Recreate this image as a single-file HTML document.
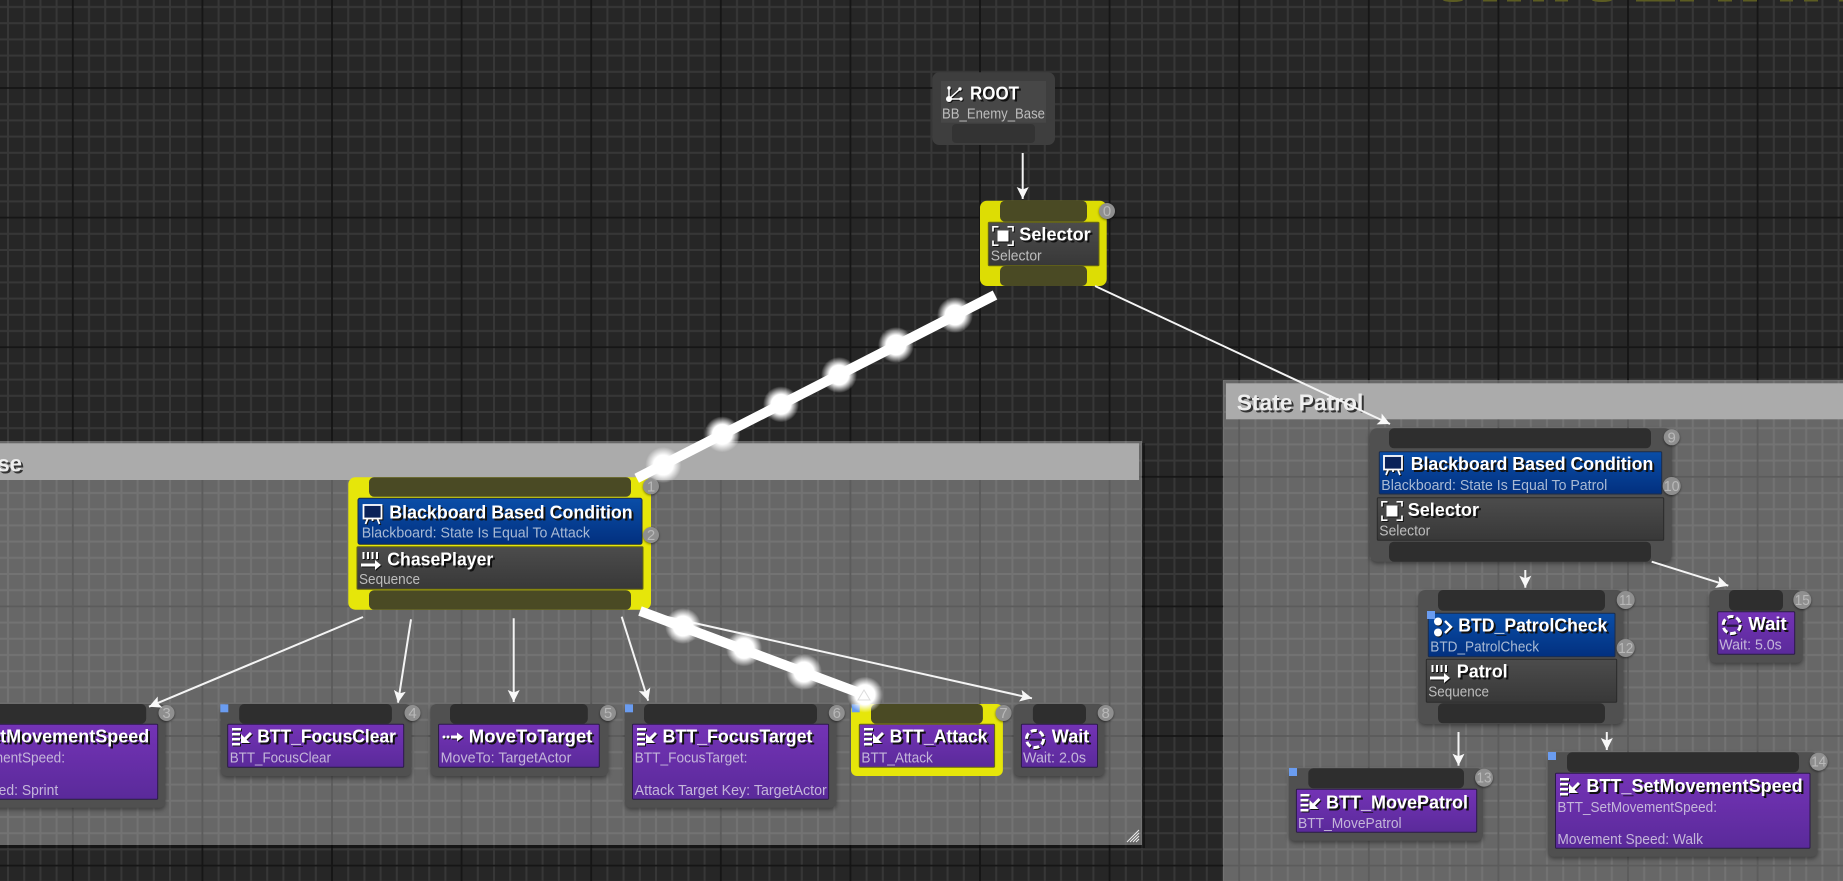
<!DOCTYPE html>
<html><head><meta charset="utf-8"><style>
html,body{margin:0;padding:0;background:#262626;overflow:hidden}
svg{display:block;font-family:"Liberation Sans",sans-serif}
.t{font-weight:700;font-size:18.500px;fill:#fff;filter:drop-shadow(2px 2px 0 #111)}
.h{font-weight:700;font-size:23px;fill:#eee;filter:drop-shadow(2px 2px 0 #333)}
.s{font-size:15px;fill:#bdbdbd}.sb{font-size:15px;fill:#a9bad4}.sp{font-size:15px;fill:#c4b6da}
.b{font-size:15px;fill:#b8b8b8;text-anchor:middle}
.o{fill:#505050;filter:drop-shadow(0 2px 2px rgba(0,0,0,.4))}
.y{fill:#e6e60a}.pin{fill:#2e2e2e}.pinY{fill:#4a4a24}
.pu{fill:url(#gp);stroke:#2b1a48;stroke-width:1}.bl{fill:url(#gb);stroke:#1d2c48;stroke-width:1}.gr{fill:url(#gg);stroke:#2a2a2a;stroke-width:1}
.bd{fill:#8f8f8f;filter:drop-shadow(0 1px 1px rgba(0,0,0,.5))}
.w{stroke:#f4f4f4;stroke-width:2;marker-end:url(#a)}
.ic{filter:drop-shadow(1.500px 1.500px 0 #111)}
</style></head><body>
<svg xmlns="http://www.w3.org/2000/svg" width="1843" height="881" viewBox="0 0 1843 881">
<defs>
<pattern id="grid" patternUnits="userSpaceOnUse" x="72.800" y="88" width="129.600" height="129.600">
<path d="M16.200 0V129.600M32.400 0V129.600M48.600 0V129.600M64.800 0V129.600M81 0V129.600M97.200 0V129.600M113.400 0V129.600M0 16.200H129.600M0 32.400H129.600M0 48.600H129.600M0 64.800H129.600M0 81H129.600M0 97.200H129.600M0 113.400H129.600" stroke="#373737" stroke-width="2" fill="none"/>
<path d="M0 0V129.600M129.600 0V129.600M0 0H129.600M0 129.600H129.600" stroke="#151515" stroke-width="1.800" fill="none"/>
</pattern>
<linearGradient id="gp" x1="0" y1="0" x2="0" y2="1"><stop offset="0" stop-color="#7433b6"/><stop offset="1" stop-color="#5a2a9a"/></linearGradient>
<linearGradient id="gb" x1="0" y1="0" x2="0" y2="1"><stop offset="0" stop-color="#0a4ea8"/><stop offset="1" stop-color="#02307f"/></linearGradient>
<linearGradient id="gg" x1="0" y1="0" x2="0" y2="1"><stop offset="0" stop-color="#4c4c4c"/><stop offset="1" stop-color="#383838"/></linearGradient>
<radialGradient id="glow"><stop offset="0" stop-color="#fff"/><stop offset=".55" stop-color="#fff"/><stop offset="1" stop-color="#fff" stop-opacity="0"/></radialGradient>
<marker id="a" markerUnits="userSpaceOnUse" markerWidth="13" markerHeight="13" refX="12" refY="6.500" orient="auto"><path d="M0 .5L12 6.500L0 12.500L2.500 6.500z" fill="#f8f8f8"/></marker>
<g id="sel"><path d="M0 5.500V.8H5.500M14.500 .8H20V5.500M20 14.500V19.200H14.500M5.500 19.200H0V14.500" fill="none" stroke="#fff" stroke-width="1.700"/><rect x="4.500" y="4.500" width="11" height="11" fill="#fff"/></g>
<g id="bb"><rect x="1" y="1" width="18" height="13.500" fill="#0a2258" stroke="#fff" stroke-width="1.800"/><path d="M5 15L3 20M15 15L17 20M10 15V17" stroke="#fff" stroke-width="1.800" fill="none"/></g>
<g id="seq"><path d="M2.500 0V7M7 0V7M11.500 0V7M16 0V7" stroke="#fff" stroke-width="2"/><path d="M0 13H15" stroke="#fff" stroke-width="3"/><path d="M14 8L20 13L14 18z" fill="#fff"/></g>
<g id="task"><path d="M0 0H9V2.500H0zM0 5H8V7.500H0zM0 10H8V12.500H0zM0 15H8V17.500H0z" fill="#fff"/><path d="M19 5L12 12" stroke="#fff" stroke-width="3"/><path d="M9 6V15H18z" fill="#fff"/></g>
<g id="move"><circle cx="2" cy="7" r="1.500" fill="#fff"/><circle cx="6" cy="7" r="1.500" fill="#fff"/><path d="M9 7H16" stroke="#fff" stroke-width="3"/><path d="M15 2.500L21 7L15 11.500z" fill="#fff"/></g>
<g id="wait"><circle cx="10" cy="10" r="8.500" fill="none" stroke="#fff" stroke-width="3" stroke-dasharray="6 2.900"/><path d="M4 10H16" stroke="#3a1d66" stroke-width="1.200"/></g>
<g id="dec"><circle cx="5" cy="4.500" r="4" fill="#fff"/><circle cx="5" cy="15.500" r="4" fill="#fff"/><path d="M12 4L18 10L12 16" stroke="#fff" stroke-width="2.500" fill="none"/></g>
<g id="root"><path d="M3 14L3 3M3 14L14 4M3 14H15" stroke="#fff" stroke-width="1.500"/><circle cx="3" cy="14" r="3" fill="#fff"/><circle cx="3" cy="3" r="1.700" fill="#fff"/><circle cx="14" cy="4" r="1.700" fill="#fff"/><circle cx="15" cy="14" r="1.700" fill="#fff"/></g>
</defs>
<rect width="1843" height="881" fill="#262626"/>
<rect width="1843" height="881" fill="url(#grid)"/>
<!-- huge yellow title remnants -->
<g fill="#5c5c22"><ellipse cx="1453" cy="0" rx="10" ry="2"/><rect x="1483" y="0" width="14" height="1.500"/><rect x="1507" y="0" width="14" height="1.500"/><rect x="1533" y="0" width="11" height="1.500"/><rect x="1555" y="0" width="13" height="1.500"/><ellipse cx="1602" cy="0" rx="10" ry="2"/><rect x="1636" y="0" width="39" height="1.500"/><rect x="1680" y="0" width="14" height="1.500"/><rect x="1718" y="0" width="14" height="1.500"/><rect x="1743" y="0" width="14" height="1.500"/><rect x="1780" y="0" width="13" height="1.500"/><rect x="1804" y="0" width="14" height="1.500"/><rect x="1839" y="0" width="4" height="1.500"/></g>

<!-- comment: State Chase -->
<rect x="-10" y="441" width="1152" height="404" fill="rgba(255,255,255,.3)"/>
<path d="M1143.500 443V846.500H-10" fill="none" stroke="rgba(0,0,0,.4)" stroke-width="3"/>
<rect x="-10" y="443.300" width="1149" height="36.700" fill="#ababab"/>
<text class="h" x="-105" y="471.700" textLength="127" lengthAdjust="spacingAndGlyphs">State Chase</text>
<path d="M1130 842L1139 833M1133 842L1139 836M1136 842L1139 839M1127 842L1139 830" stroke="#eee" stroke-width="1" fill="none"/>
<!-- comment: State Patrol -->
<rect x="1223" y="380" width="630" height="510" fill="rgba(255,255,255,.3)"/>
<rect x="1226" y="383.300" width="627" height="36" fill="#ababab"/>
<text class="h" x="1236.700" y="410.700" textLength="126.600" lengthAdjust="spacingAndGlyphs">State Patrol</text>

<!-- ROOT -->
<rect x="932.300" y="72.300" width="122.700" height="72.700" rx="7" fill="#3e3e3e"/>
<rect x="941" y="81" width="105" height="41.700" fill="#474747"/>
<rect x="952" y="124" width="83" height="19" rx="4" fill="#333"/>
<use href="#root" class="ic" transform="translate(946,85)"/>
<text class="t" x="970" y="99.500" textLength="49" lengthAdjust="spacingAndGlyphs">ROOT</text>
<text class="s" x="942" y="118.700" textLength="103" lengthAdjust="spacingAndGlyphs">BB_Enemy_Base</text>

<!-- Selector 0 -->
<rect x="980" y="200.700" width="126.700" height="85.300" rx="7" fill="#dddd04"/>
<rect class="pinY" x="1000" y="200.700" width="87" height="21" rx="5"/>
<rect x="988.300" y="222.300" width="110.700" height="43.400" rx="1" fill="url(#gg)" stroke="#6a6a10"/>
<rect class="pinY" x="1000" y="266" width="87" height="20" rx="5"/>
<use href="#sel" class="ic" transform="translate(993,226)"/>
<text class="t" x="1019.300" y="240.700" textLength="71.400" lengthAdjust="spacingAndGlyphs">Selector</text>
<text class="s" x="990.700" y="260.700" textLength="51" lengthAdjust="spacingAndGlyphs">Selector</text>
<circle class="bd" cx="1107" cy="211" r="8"/><text class="b" x="1107" y="216">0</text>

<!-- Chase node -->
<rect x="348.300" y="477.300" width="302.700" height="132.400" rx="7" class="y"/>
<rect class="pinY" x="369" y="477.300" width="262" height="19.400" rx="5"/>
<rect class="bl" x="358" y="498.300" width="284" height="46" rx="2"/>
<rect class="gr" x="357" y="546.700" width="286" height="42.600" rx="1" style="stroke:#66660f"/>
<rect class="pinY" x="369" y="590.300" width="262" height="19.400" rx="5"/>
<use href="#bb" class="ic" transform="translate(362.500,504)"/>
<text class="t" x="389.300" y="518.700" textLength="243.400" lengthAdjust="spacingAndGlyphs">Blackboard Based Condition</text>
<text class="sb" x="361.700" y="537.700" textLength="228.300" lengthAdjust="spacingAndGlyphs">Blackboard: State Is Equal To Attack</text>
<use href="#seq" class="ic" transform="translate(361,552)"/>
<text class="t" x="387.300" y="565.700" textLength="106" lengthAdjust="spacingAndGlyphs">ChasePlayer</text>
<text class="s" x="359" y="584" textLength="61" lengthAdjust="spacingAndGlyphs">Sequence</text>
<circle class="bd" cx="651" cy="486.300" r="8"/><text class="b" x="651" y="491.300">1</text>
<circle class="bd" cx="651" cy="535" r="8"/><text class="b" x="651" y="540">2</text>

<!-- Node 3 -->
<rect class="o" x="-104.300" y="704" width="269.600" height="103.700" rx="6"/>
<rect class="pin" x="-85.800" y="704" width="232" height="19.700" rx="5"/>
<rect class="pu" x="-96.800" y="724.300" width="254.500" height="75" rx="1"/>
<text class="t" x="-67" y="742.700" textLength="216.300" lengthAdjust="spacingAndGlyphs">BTT_SetMovementSpeed</text>
<text class="sp" x="-95" y="762.700" textLength="160" lengthAdjust="spacingAndGlyphs">BTT_SetMovementSpeed:</text>
<text class="sp" x="-95" y="795" textLength="153.200" lengthAdjust="spacingAndGlyphs">Movement Speed: Sprint</text>
<circle class="bd" cx="166.500" cy="713" r="8"/><text class="b" x="166.500" y="718">3</text>

<!-- Node 4 -->
<rect class="o" x="220.800" y="704" width="190.600" height="72" rx="6"/>
<rect class="pin" x="239.200" y="704" width="152.700" height="19.700" rx="5"/>
<rect class="pu" x="227.700" y="724.300" width="176" height="43" rx="1"/>
<use href="#task" class="ic" transform="translate(232,728)"/>
<text class="t" x="257.200" y="742.700" textLength="138.800" lengthAdjust="spacingAndGlyphs">BTT_FocusClear</text>
<text class="sp" x="229.700" y="762.700" textLength="101.300" lengthAdjust="spacingAndGlyphs">BTT_FocusClear</text>
<rect x="220.300" y="704.300" width="8" height="8" fill="#6a9cf0"/>
<circle class="bd" cx="412.500" cy="713" r="8"/><text class="b" x="412.500" y="718">4</text>

<!-- Node 5 -->
<rect class="o" x="430.500" y="704" width="178" height="72" rx="6"/>
<rect class="pin" x="450" y="704" width="137.800" height="19.700" rx="5"/>
<rect class="pu" x="438.600" y="724.300" width="160.700" height="43" rx="1"/>
<use href="#move" class="ic" transform="translate(442,730)"/>
<text class="t" x="468.800" y="742.700" textLength="123.600" lengthAdjust="spacingAndGlyphs">MoveToTarget</text>
<text class="sp" x="440.600" y="762.700" textLength="130.800" lengthAdjust="spacingAndGlyphs">MoveTo: TargetActor</text>
<circle class="bd" cx="608" cy="713" r="8"/><text class="b" x="608" y="718">5</text>

<!-- Node 6 -->
<rect class="o" x="625" y="704" width="211.400" height="103.700" rx="6"/>
<rect class="pin" x="644" y="704" width="173" height="19.700" rx="5"/>
<rect class="pu" x="632.500" y="724.300" width="196.100" height="75" rx="1"/>
<use href="#task" class="ic" transform="translate(637,728)"/>
<text class="t" x="662.500" y="742.700" textLength="150" lengthAdjust="spacingAndGlyphs">BTT_FocusTarget</text>
<text class="sp" x="634.600" y="762.700" textLength="112.900" lengthAdjust="spacingAndGlyphs">BTT_FocusTarget:</text>
<text class="sp" x="634.600" y="795" textLength="192.200" lengthAdjust="spacingAndGlyphs">Attack Target Key: TargetActor</text>
<rect x="625" y="704.300" width="8" height="8" fill="#6a9cf0"/>
<circle class="bd" cx="836.800" cy="713" r="8"/><text class="b" x="836.800" y="718">6</text>

<!-- Node 7 -->
<rect x="851" y="704" width="151.900" height="72" rx="6" class="y"/>
<rect class="pinY" x="871" y="704" width="111.900" height="19.700" rx="5"/>
<rect class="pu" x="859.300" y="724.300" width="135.300" height="43" rx="1" style="stroke:#66660f"/>
<use href="#task" class="ic" transform="translate(864,728)"/>
<text class="t" x="889.600" y="742.700" textLength="97.900" lengthAdjust="spacingAndGlyphs">BTT_Attack</text>
<text class="sp" x="861.400" y="762.700" textLength="71.500" lengthAdjust="spacingAndGlyphs">BTT_Attack</text>
<rect x="851.700" y="704.300" width="8" height="8" fill="#6a9cf0"/>
<circle class="bd" cx="1003.600" cy="713" r="8"/><text class="b" x="1003.600" y="718">7</text>

<!-- Node 8 -->
<rect class="o" x="1013.600" y="704" width="91" height="72" rx="6"/>
<rect class="pin" x="1032.900" y="704" width="53.100" height="19.700" rx="5"/>
<rect class="pu" x="1021.400" y="724.300" width="76.100" height="43" rx="1"/>
<use href="#wait" class="ic" transform="translate(1025,729)"/>
<text class="t" x="1051.800" y="742.700" textLength="37.500" lengthAdjust="spacingAndGlyphs">Wait</text>
<text class="sp" x="1023" y="762.700" textLength="63" lengthAdjust="spacingAndGlyphs">Wait: 2.0s</text>
<circle class="bd" cx="1105.700" cy="713" r="8"/><text class="b" x="1105.700" y="718">8</text>

<!-- Node 9 -->
<rect class="o" x="1370" y="428.300" width="301.700" height="133.400" rx="7"/>
<rect class="pin" x="1389" y="428.300" width="262" height="20" rx="5"/>
<rect class="bl" x="1379.300" y="451.700" width="282.400" height="42.300" rx="1"/>
<rect class="gr" x="1377.300" y="497.700" width="286.400" height="42.600" rx="1"/>
<rect class="pin" x="1389" y="541.700" width="262" height="20" rx="5"/>
<use href="#bb" class="ic" transform="translate(1383,455)"/>
<text class="t" x="1410.700" y="470" textLength="242.600" lengthAdjust="spacingAndGlyphs">Blackboard Based Condition</text>
<text class="sb" x="1381.300" y="490" textLength="226" lengthAdjust="spacingAndGlyphs">Blackboard: State Is Equal To Patrol</text>
<use href="#sel" class="ic" transform="translate(1382,501)"/>
<text class="t" x="1407.700" y="516" textLength="71.300" lengthAdjust="spacingAndGlyphs">Selector</text>
<text class="s" x="1379.300" y="535.700" textLength="51" lengthAdjust="spacingAndGlyphs">Selector</text>
<circle class="bd" cx="1671.700" cy="437.300" r="8"/><text class="b" x="1671.700" y="442.300">9</text>
<circle class="bd" cx="1671.700" cy="486" r="9"/><text class="b" x="1671.700" y="491" textLength="16" lengthAdjust="spacingAndGlyphs">10</text>

<!-- Node 11 -->
<rect class="o" x="1418.300" y="590" width="205" height="134" rx="7"/>
<rect class="pin" x="1438" y="590" width="167" height="20.700" rx="5"/>
<rect class="bl" x="1428.300" y="613.300" width="186.700" height="43.400" rx="1"/>
<rect class="gr" x="1426.300" y="659.300" width="190.400" height="43" rx="1"/>
<rect class="pin" x="1438" y="703.300" width="167" height="20" rx="5"/>
<use href="#dec" class="ic" transform="translate(1433,617)"/>
<text class="t" x="1458.300" y="631.700" textLength="149" lengthAdjust="spacingAndGlyphs">BTD_PatrolCheck</text>
<text class="sb" x="1430.300" y="651.700" textLength="108.700" lengthAdjust="spacingAndGlyphs">BTD_PatrolCheck</text>
<rect x="1427" y="611" width="8" height="8" fill="#6a9cf0"/>
<use href="#seq" class="ic" transform="translate(1430,665)"/>
<text class="t" x="1456.700" y="677.700" textLength="51" lengthAdjust="spacingAndGlyphs">Patrol</text>
<text class="s" x="1428.300" y="696.700" textLength="60.700" lengthAdjust="spacingAndGlyphs">Sequence</text>
<circle class="bd" cx="1625.700" cy="600" r="9"/><text class="b" x="1625.700" y="605" textLength="13" lengthAdjust="spacingAndGlyphs">11</text>
<circle class="bd" cx="1625.700" cy="648" r="9"/><text class="b" x="1625.700" y="653" textLength="15" lengthAdjust="spacingAndGlyphs">12</text>

<!-- Node 15 Wait -->
<rect class="o" x="1709.300" y="590" width="93.400" height="72.700" rx="6"/>
<rect class="pin" x="1729" y="590" width="54" height="20.700" rx="5"/>
<rect class="pu" x="1717.700" y="611.700" width="77" height="42.600" rx="1"/>
<use href="#wait" class="ic" transform="translate(1721.700,615)"/>
<text class="t" x="1748.300" y="630" textLength="38.400" lengthAdjust="spacingAndGlyphs">Wait</text>
<text class="sp" x="1719.300" y="649.300" textLength="62.400" lengthAdjust="spacingAndGlyphs">Wait: 5.0s</text>
<circle class="bd" cx="1802.300" cy="600" r="9"/><text class="b" x="1802.300" y="605" textLength="15" lengthAdjust="spacingAndGlyphs">15</text>

<!-- Node 13 -->
<rect class="o" x="1289" y="768.300" width="194" height="72.400" rx="6"/>
<rect class="pin" x="1308.300" y="768.300" width="155.700" height="20" rx="5"/>
<rect class="pu" x="1296.400" y="789.300" width="180.300" height="43" rx="1"/>
<use href="#task" class="ic" transform="translate(1300.500,794)"/>
<text class="t" x="1326" y="808.300" textLength="142" lengthAdjust="spacingAndGlyphs">BTT_MovePatrol</text>
<text class="sp" x="1298" y="828" textLength="103.600" lengthAdjust="spacingAndGlyphs">BTT_MovePatrol</text>
<rect x="1289" y="768" width="8" height="8" fill="#6a9cf0"/>
<circle class="bd" cx="1484" cy="777.700" r="9"/><text class="b" x="1484" y="782.700" textLength="15" lengthAdjust="spacingAndGlyphs">13</text>

<!-- Node 14 -->
<rect class="o" x="1548" y="752.300" width="269.600" height="104.400" rx="6"/>
<rect class="pin" x="1567" y="752.300" width="232" height="20" rx="5"/>
<rect class="pu" x="1555.500" y="773.300" width="254.500" height="75" rx="1"/>
<use href="#task" class="ic" transform="translate(1560,778)"/>
<text class="t" x="1586.400" y="792" textLength="216.300" lengthAdjust="spacingAndGlyphs">BTT_SetMovementSpeed</text>
<text class="sp" x="1557.400" y="812" textLength="159.600" lengthAdjust="spacingAndGlyphs">BTT_SetMovementSpeed:</text>
<text class="sp" x="1557.400" y="844" textLength="145.600" lengthAdjust="spacingAndGlyphs">Movement Speed: Walk</text>
<rect x="1548" y="752" width="8" height="8" fill="#6a9cf0"/>
<circle class="bd" cx="1818.700" cy="761.700" r="9"/><text class="b" x="1818.700" y="766.700" textLength="15" lengthAdjust="spacingAndGlyphs">14</text>

<!-- wires -->
<line class="w" x1="1022.700" y1="153" x2="1022.700" y2="199"/>
<line class="w" x1="1095" y1="286" x2="1390" y2="424"/>
<line class="w" x1="363" y1="617" x2="149" y2="706.700"/>
<line class="w" x1="411" y1="619.300" x2="398" y2="702.700"/>
<line class="w" x1="513.700" y1="618.300" x2="513.700" y2="702"/>
<line class="w" x1="621.700" y1="616.700" x2="648.200" y2="700.700"/>
<line class="w" x1="645" y1="612" x2="1032" y2="698.300"/>
<line class="w" x1="1525.300" y1="570" x2="1525.300" y2="587.700"/>
<line class="w" x1="1651.700" y1="561.700" x2="1728.300" y2="585.700"/>
<line class="w" x1="1458.500" y1="732" x2="1458.500" y2="765.700"/>
<line class="w" x1="1606.800" y1="732" x2="1606.800" y2="750"/>
<line x1="995" y1="295" x2="636.700" y2="478.300" stroke="#fff" stroke-width="10"/>
<line x1="640" y1="611" x2="865" y2="695" stroke="#fff" stroke-width="10"/>
<g fill="url(#glow)">
<circle cx="955" cy="315" r="18"/><circle cx="896" cy="345" r="18"/><circle cx="839" cy="375" r="18"/><circle cx="781" cy="404.300" r="18"/><circle cx="722.300" cy="434.300" r="18"/><circle cx="663.300" cy="465" r="18"/>
<circle cx="683" cy="626" r="18"/><circle cx="744" cy="648.400" r="18"/><circle cx="804" cy="672" r="18"/><circle cx="865" cy="694.700" r="18"/>
</g>
<path d="M864 690L858 700H870z" fill="none" stroke="#ddd" stroke-width="1"/>
</svg>
</body></html>
